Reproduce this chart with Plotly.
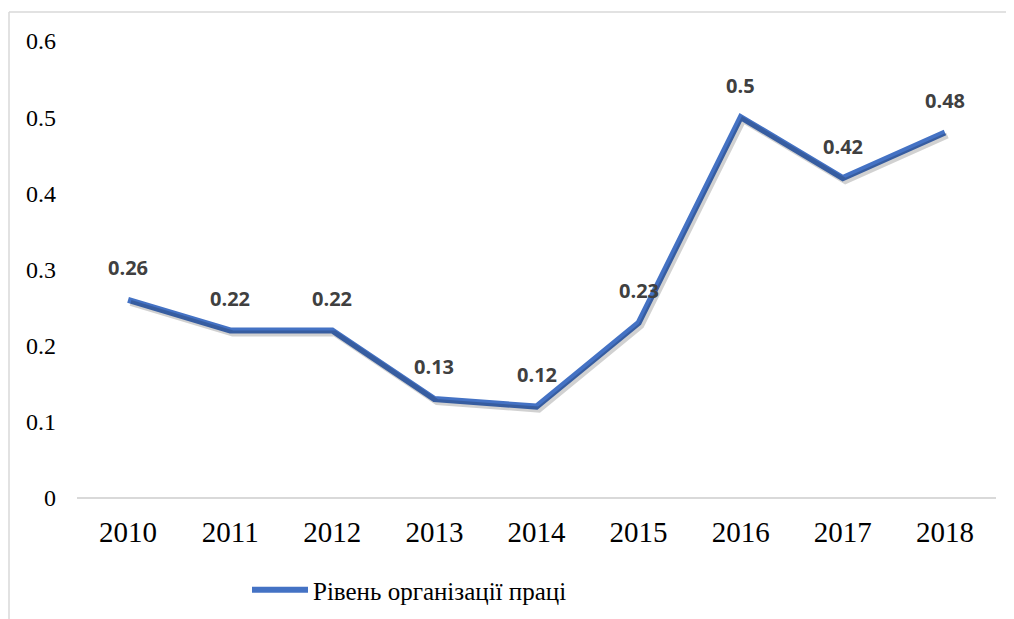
import plotly.graph_objects as go

years = ["2010", "2011", "2012", "2013", "2014", "2015", "2016", "2017", "2018"]
values = [0.26, 0.22, 0.22, 0.13, 0.12, 0.23, 0.5, 0.42, 0.48]
series_name = "Рівень організації праці"
y_ticks = [0, 0.1, 0.2, 0.3, 0.4, 0.5, 0.6]
y_tick_labels = ["0", "0.1", "0.2", "0.3", "0.4", "0.5", "0.6"]

W, H = 1014, 619
OFF = 8  # page body margin
L, R, T, B = 77 - OFF, 1014 - (996 - OFF), 41 - OFF, 619 - (498 - OFF)
pw, ph = W - L - R, H - T - B
y0px = 498 - OFF  # zero line in figure px


def px_x(x):
    return (x - OFF - L) / pw


def px_y(y):
    return (y0px - (y - OFF)) / ph


# shadow offsets (pixels -> axis units)
sx = 2.5 / (pw / 9.0)
sy = 3.0 * 0.6 / ph

fig = go.Figure()
fig.add_trace(go.Scatter(
    x=years, y=values, mode="lines", showlegend=False, hoverinfo="skip",
    line=dict(color="rgba(0,0,0,0.18)", width=6), xaxis="x2", yaxis="y2",
))
fig.add_trace(go.Scatter(
    x=years, y=values, mode="lines", name=series_name,
    line=dict(color="#4472C4", width=6),
))

annotations = []
for i, v in enumerate(values):
    annotations.append(dict(
        x=i, y=v, xref="x", yref="y", text=f"<b>{v:g}</b>", showarrow=False,
        yshift=32, font=dict(family="Open Sans, Liberation Sans, sans-serif", size=20, color="#404040"),
    ))

fig.update_layout(
    width=W, height=H,
    margin=dict(l=L, r=R, t=T, b=B, autoexpand=False),
    paper_bgcolor="white", plot_bgcolor="white",
    showlegend=True,
    legend=dict(orientation="h", x=px_x(247), y=px_y(590), xanchor="left", yanchor="middle",
                itemwidth=56,
                font=dict(family="Liberation Serif, serif", size=25, color="#000000"),
                bgcolor="rgba(0,0,0,0)"),
    annotations=annotations,
    xaxis=dict(type="category", range=[-0.5, 8.5], showgrid=False, showline=False, zeroline=False,
               ticks="", ticklabelstandoff=14,
               tickfont=dict(family="Liberation Serif, serif", size=29, color="#000000")),
    yaxis=dict(range=[0, 0.6], tickvals=y_ticks, ticktext=y_tick_labels, showgrid=False,
               zeroline=True, zerolinecolor="#D9D9D9", zerolinewidth=2, showline=False,
               ticks="", ticklabelstandoff=20,
               tickfont=dict(family="Liberation Serif, serif", size=24, color="#000000")),
    xaxis2=dict(type="category", overlaying="x", range=[-0.5 - sx, 8.5 - sx], visible=False),
    yaxis2=dict(overlaying="y", range=[sy, 0.6 + sy], visible=False),
    shapes=[
        dict(type="line", xref="paper", yref="paper", x0=px_x(9), x1=px_x(1030),
             y0=px_y(12), y1=px_y(12), line=dict(color="#D9D9D9", width=1.5)),
        dict(type="line", xref="paper", yref="paper", x0=px_x(9), x1=px_x(9),
             y0=px_y(12), y1=px_y(640), line=dict(color="#D9D9D9", width=1.5)),
    ],
)

fig.write_html("out.html")
